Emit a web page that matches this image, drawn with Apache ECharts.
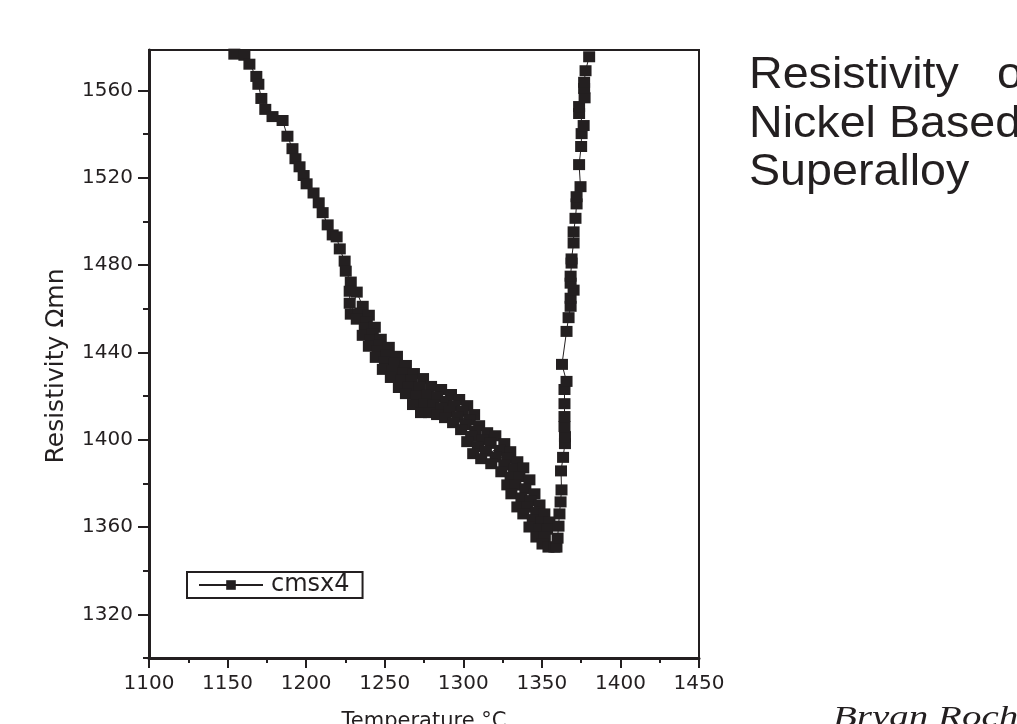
<!DOCTYPE html>
<html>
<head>
<meta charset="utf-8">
<script src="https://cdn.jsdelivr.net/npm/echarts@6.0.0/dist/echarts.min.js"></script>
<style>
  html, body { margin: 0; padding: 0; background: #fff; }
  #chart { width: 1017px; height: 724px; }
</style>
</head>
<body>
<div id="chart"></div>
<script>
// cmsx4 readings, [temperature °C, resistivity]
const descent = [
  [1154.3, 1576.6], [1160.7, 1576.1], [1163.9, 1572.0], [1168.3, 1566.4], [1169.6, 1562.8],
  [1171.5, 1556.3], [1174.0, 1551.3], [1178.6, 1548.0], [1185.0, 1546.2], [1188.1, 1539.0],
  [1191.3, 1533.3], [1193.2, 1528.7], [1195.8, 1525.0], [1198.4, 1521.0], [1200.3, 1517.2],
  [1204.7, 1513.0], [1208.0, 1508.5], [1210.5, 1504.0], [1213.7, 1498.4], [1216.9, 1493.8],
  [1219.4, 1492.9], [1221.4, 1487.4], [1224.5, 1481.8], [1225.2, 1477.2], [1228.4, 1472.2],
  [1227.7, 1468.0], [1227.7, 1462.5], [1228.4, 1457.5], [1232.2, 1467.6]
];

// noisy band between 1232 and 1358 °C, read across its width from the upper edge down
const bandUpper = [
  [1236.0, 1461.1], [1239.9, 1457.0], [1243.7, 1451.5], [1247.5, 1446.0], [1252.6, 1442.3],
  [1257.8, 1438.2], [1263.5, 1434.0], [1268.6, 1430.3], [1274.4, 1428.0], [1279.5, 1424.4],
  [1285.9, 1423.0], [1292.2, 1420.7], [1297.4, 1418.4], [1302.5, 1415.6], [1306.9, 1411.5],
  [1310.1, 1406.4], [1315.2, 1403.2], [1320.4, 1401.8], [1326.1, 1398.2], [1329.9, 1394.5],
  [1334.4, 1389.9], [1338.2, 1387.1], [1342.1, 1381.6], [1345.3, 1375.2], [1348.5, 1370.1],
  [1351.6, 1366.0], [1354.8, 1362.3]
];
const bandInnerHigh = [
  [1234.7, 1458.0], [1238.6, 1454.0], [1242.4, 1448.5], [1246.4, 1443.2], [1251.3, 1439.0],
  [1256.5, 1435.0], [1262.0, 1430.6], [1266.9, 1427.2], [1272.3, 1424.0], [1277.4, 1420.4],
  [1283.3, 1419.5], [1289.2, 1417.6], [1294.4, 1415.6], [1299.5, 1413.0], [1304.1, 1409.2],
  [1307.6, 1404.0], [1312.2, 1400.0], [1317.4, 1398.3], [1323.3, 1395.1], [1328.0, 1391.4],
  [1332.3, 1386.4], [1335.7, 1383.1], [1339.5, 1377.5], [1342.9, 1372.1], [1346.4, 1366.7],
  [1349.9, 1362.5], [1353.3, 1359.0]
];
const bandInnerLow = [
  [1233.5, 1457.0], [1237.3, 1451.0], [1241.2, 1445.6], [1245.4, 1440.5], [1250.1, 1435.6],
  [1255.2, 1431.7], [1260.5, 1427.3], [1265.2, 1424.2], [1270.1, 1420.0], [1275.2, 1416.4],
  [1280.8, 1416.0], [1286.3, 1414.6], [1291.4, 1412.9], [1296.5, 1410.4], [1301.4, 1406.9],
  [1305.0, 1401.5], [1309.3, 1396.8], [1314.4, 1394.8], [1320.6, 1392.1], [1326.1, 1388.4],
  [1330.1, 1382.8], [1333.1, 1379.2], [1337.0, 1373.3], [1340.6, 1369.1], [1344.2, 1363.4],
  [1348.2, 1359.0], [1351.9, 1355.6]
];
const bandLower = [
  [1232.2, 1455.2], [1236.0, 1447.8], [1239.9, 1442.8], [1244.3, 1437.7], [1248.8, 1432.2],
  [1253.9, 1428.5], [1259.0, 1423.9], [1263.5, 1421.1], [1268.0, 1416.1], [1273.1, 1412.4],
  [1278.2, 1412.4], [1283.3, 1411.5], [1288.4, 1410.1], [1293.5, 1407.8], [1298.6, 1404.6],
  [1302.5, 1399.1], [1306.3, 1393.6], [1311.4, 1391.3], [1317.8, 1389.0], [1324.2, 1385.3],
  [1328.0, 1379.3], [1330.6, 1375.2], [1334.4, 1369.2], [1338.2, 1366.0], [1342.1, 1360.0],
  [1346.5, 1355.4], [1350.4, 1352.2], [1354.2, 1350.8], [1358.0, 1350.8]
];

const ascent = [
  [1359.3, 1350.8], [1360.0, 1354.9], [1360.6, 1360.4], [1361.2, 1366.0], [1361.9, 1371.5],
  [1362.5, 1377.0], [1362.2, 1385.7], [1363.5, 1391.9], [1364.7, 1398.2], [1364.7, 1401.4],
  [1364.4, 1406.0], [1364.4, 1410.6], [1364.4, 1416.5], [1364.4, 1423.0], [1365.7, 1426.7],
  [1362.8, 1434.5], [1365.7, 1449.6], [1367.0, 1455.9], [1368.3, 1461.1], [1368.3, 1464.8],
  [1370.2, 1468.5], [1368.3, 1471.7], [1368.3, 1474.9], [1368.9, 1480.9], [1368.9, 1482.8],
  [1370.2, 1490.1], [1370.2, 1495.2], [1371.4, 1501.4], [1372.1, 1508.0], [1372.1, 1511.3],
  [1374.6, 1515.9], [1373.7, 1526.0], [1375.0, 1534.3], [1375.3, 1540.2], [1376.6, 1543.9],
  [1373.7, 1549.4], [1373.7, 1552.6], [1377.2, 1556.6], [1376.9, 1560.9], [1376.9, 1563.7],
  [1377.8, 1569.0], [1380.1, 1575.4]
];

const yMajorTicks = [1320, 1360, 1400, 1440, 1480, 1520, 1560];
const yMinorTicks = [1300, 1340, 1380, 1420, 1460, 1500, 1540];

const ink = "#231f20";

// walk across the band at each step: upper edge, two inner readings, lower edge
const band = [];
bandLower.forEach((p, i) => {
  if (bandUpper[i]) band.push(bandUpper[i], bandInnerHigh[i], bandInnerLow[i]);
  band.push(p);
});
const points = descent.concat(band, ascent);

const tickFont = { fontFamily: "DejaVu Sans", fontSize: 20, color: ink };
const plain = v => String(v);

const chart = echarts.init(document.getElementById("chart"));
chart.setOption({
  animation: false,
  backgroundColor: "#fff",
  grid: {
    left: 149, right: 318, top: 50, bottom: 66,
    outerBoundsMode: "none",
    show: true, borderColor: ink, borderWidth: 2
  },
  legend: {
    left: 187, top: 572,
    padding: [1, 13, 1, 11],
    borderColor: ink, borderWidth: 2,
    itemWidth: 64, itemHeight: 12,
    textStyle: { fontFamily: "DejaVu Sans", fontSize: 24, color: ink, padding: [0, 0, 0, 3] }
  },
  xAxis: {
    type: "value",
    min: 1100, max: 1450, interval: 50,
    name: "Temperature °C",
    nameLocation: "middle", nameGap: 53,
    nameTextStyle: { fontFamily: "DejaVu Sans", fontSize: 21, color: ink },
    axisLine: { lineStyle: { color: ink, width: 3 } },
    axisTick: { length: 10, lineStyle: { color: ink, width: 2 } },
    minorTick: { show: true, splitNumber: 2, length: 5, lineStyle: { color: ink, width: 2 } },
    axisLabel: Object.assign({ margin: 16, formatter: plain }, tickFont),
    splitLine: { show: false }
  },
  yAxis: [
    {
      type: "value",
      min: 1300, max: 1578.5,
      name: "Resistivity Ωmn",
      nameLocation: "middle", nameGap: 80, nameRotate: 90,
      nameTextStyle: { fontFamily: "DejaVu Sans", fontSize: 25, color: ink, padding: [0, 24, 0, 0] },
      axisLine: { lineStyle: { color: ink, width: 3 } },
      axisTick: { customValues: yMajorTicks, length: 11, lineStyle: { color: ink, width: 2 } },
      axisLabel: Object.assign({ customValues: yMajorTicks, margin: 16, formatter: plain }, tickFont),
      splitLine: { show: false }
    },
    {
      type: "value",
      min: 1300, max: 1578.5,
      position: "left",
      axisLine: { show: false },
      axisTick: { customValues: yMinorTicks, length: 6, lineStyle: { color: ink, width: 2 } },
      axisLabel: { show: false },
      splitLine: { show: false }
    }
  ],
  series: [{
    name: "cmsx4",
    type: "line",
    data: points,
    symbol: "rect",
    symbolSize: [12, 11],
    showAllSymbol: true,
    lineStyle: { color: ink, width: 1 },
    itemStyle: { color: ink }
  }],
  graphic: [
    {
      type: "text", x: 749, y: 76, scaleX: 1.06,
      style: { text: "Resistivity", font: '44px "Liberation Sans"', fill: ink, verticalAlign: "middle" }
    },
    {
      type: "text", x: 997, y: 76, scaleX: 1.06,
      style: { text: "of", font: '44px "Liberation Sans"', fill: ink, verticalAlign: "middle" }
    },
    {
      type: "text", x: 749, y: 125, scaleX: 1.06,
      style: { text: "Nickel Based", font: '44px "Liberation Sans"', fill: ink, verticalAlign: "middle" }
    },
    {
      type: "text", x: 749, y: 173, scaleX: 1.06,
      style: { text: "Superalloy", font: '44px "Liberation Sans"', fill: ink, verticalAlign: "middle" }
    },
    {
      type: "text", x: 833, y: 703, scaleX: 1.3,
      style: { text: "Bryan Roch", font: 'italic 30px "Liberation Serif"', fill: ink }
    }
  ]
});
</script>
</body>
</html>
